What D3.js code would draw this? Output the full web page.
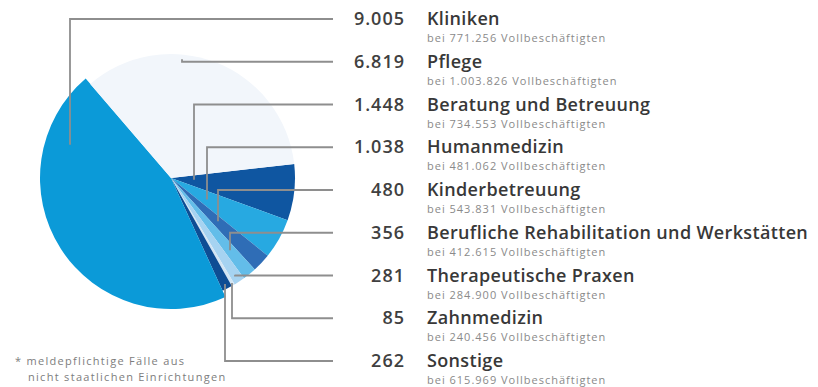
<!DOCTYPE html>
<html lang="de">
<head>
<meta charset="utf-8">
<script src="https://cdn.jsdelivr.net/npm/d3@7"></script>
<style>
  html, body { margin: 0; padding: 0; background: #ffffff; }
  svg { display: block; }
  text { font-family: "Open Sans", "Noto Sans", sans-serif; }
</style>
</head>
<body>
<svg id="chart" width="818" height="387"></svg>
<script>
// Meldepflichtige Fälle nach Bereich (Anzahl) und Vollbeschäftigte
const categories = [
  "Beratung und Betreuung",
  "Humanmedizin",
  "Kinderbetreuung",
  "Berufliche Rehabilitation und Werkstätten",
  "Therapeutische Praxen",
  "Zahnmedizin",
  "Sonstige",
  "Kliniken",
  "Pflege"
];
const cases = [1448, 1038, 480, 356, 281, 85, 262, 9005, 6819];
const employees = ["734.553", "481.062", "543.831", "412.615", "284.900", "240.456", "615.969", "771.256", "1.003.826"];
// order of the rows in the list on the right
const listOrder = [
  "Kliniken", "Pflege", "Beratung und Betreuung", "Humanmedizin", "Kinderbetreuung",
  "Berufliche Rehabilitation und Werkstätten", "Therapeutische Praxen", "Zahnmedizin", "Sonstige"
];
const sliceColors = ["#0f56a1", "#27a9e1", "#2f6db6", "#63bde9", "#a6d3f1", "#d3e5f3", "#0e4d94", "#0b9ad8", "#f2f6fb"];
const footnote = ["* meldepflichtige Fälle aus", "nicht staatlichen Einrichtungen"];

const fmt = d3.formatLocale({ decimal: ",", thousands: ".", grouping: [3], currency: ["", "€"] }).format(",d");

const svg = d3.select("#chart");
const cx = 171, cy = 178;
const rBase = 124, rBig = 131;

const rows = categories.map((c, i) => ({ name: c, value: cases[i], emp: employees[i], color: sliceColors[i] }));

const pie = d3.pie()
  .sort(null)
  .value(d => d.value)
  .startAngle(83.5 * Math.PI / 180)
  .endAngle(83.5 * Math.PI / 180 + 2 * Math.PI);

const arcs = pie(rows);
const arc = d3.arc().innerRadius(0);

const g = svg.append("g").attr("transform", `translate(${cx},${cy})`);
g.selectAll("path")
  .data(arcs)
  .join("path")
  .attr("d", d => arc.outerRadius(d.data.name === "Kliniken" ? rBig : rBase)(d))
  .attr("fill", d => d.data.color);

// list rows
const rowY = d3.scalePoint().domain(listOrder).range([19, 361]);
const numX = 405, nameX = 427, lineEndX = 333;

const list = svg.append("g");
listOrder.forEach(name => {
  const r = rows.find(d => d.name === name);
  const y = rowY(name);
  list.append("text")
    .attr("x", numX).attr("y", y + 6)
    .attr("text-anchor", "end")
    .attr("font-size", 18).attr("font-weight", 600)
    .attr("letter-spacing", 1)
    .attr("fill", "#404040")
    .text(fmt(r.value));
  list.append("text")
    .attr("x", nameX).attr("y", y + 6)
    .attr("font-size", 18).attr("font-weight", 600)
    .attr("letter-spacing", 0.35)
    .attr("fill", "#383838")
    .text(name);
  list.append("text")
    .attr("x", nameX).attr("y", y + 23)
    .attr("font-size", 11)
    .attr("letter-spacing", 1)
    .attr("fill", "#8a8a8a")
    .text(`bei ${r.emp} Vollbeschäftigten`);
});

// leader lines: elbow x and position of the anchor inside each slice
const leaders = {
  "Kliniken": { x: 70, f: 0.81 },
  "Pflege": { x: 182, f: 0.37 },
  "Beratung und Betreuung": { x: 194, f: 0.42 },
  "Humanmedizin": { x: 207, f: 0.58 },
  "Kinderbetreuung": { x: 218, f: 0.45 },
  "Berufliche Rehabilitation und Werkstätten": { x: 230, f: 0.5 },
  "Therapeutische Praxen": { x: 235, f: 0.5 },
  "Zahnmedizin": { x: 232, f: 0.5 },
  "Sonstige": { x: 225, f: 0.5 }
};

const line = d3.line();
arcs.forEach(d => {
  const L = leaders[d.data.name];
  const a = d.startAngle + L.f * (d.endAngle - d.startAngle);
  const t = (L.x - cx) / Math.sin(a);
  const y0 = cy - t * Math.cos(a);
  const y1 = rowY(d.data.name);
  svg.append("path")
    .attr("d", line([[L.x, y0], [L.x, y1], [lineEndX, y1]]))
    .attr("fill", "none")
    .attr("stroke", "#8e8e8e")
    .attr("stroke-width", 1.8);
});

// footnote
const fn = svg.append("g").attr("fill", "#7d7d7d").attr("font-size", 11).attr("letter-spacing", 1.3);
fn.append("text").attr("x", 15).attr("y", 365).text(footnote[0]);
fn.append("text").attr("x", 28).attr("y", 381).text(footnote[1]);
</script>
</body>
</html>
